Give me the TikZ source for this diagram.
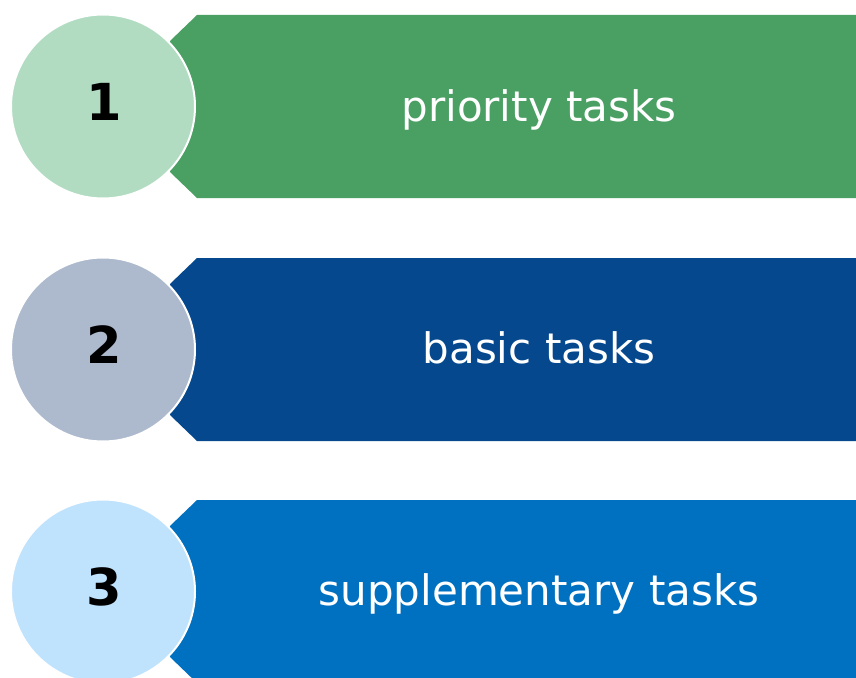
\documentclass[tikz,border=0pt]{standalone}
\usepackage{fontspec}
\setmainfont{DejaVu Sans}
\definecolor{bgA}{HTML}{4A9F63}
\definecolor{ciA}{HTML}{B1DCC1}
\definecolor{bgB}{HTML}{05488E}
\definecolor{ciB}{HTML}{ADB9CD}
\definecolor{bgC}{HTML}{0070C0}
\definecolor{ciC}{HTML}{C0E3FD}
\begin{document}
\begin{tikzpicture}[x=1pt,y=-1pt,
  numcircle/.style={circle,draw=white,line width=2pt,minimum size=184pt,inner sep=0pt,fill=#1},
  numtext/.style={font=\fontsize{51}{54}\selectfont\bfseries,text=black,inner sep=0pt,anchor=base},
  bannertext/.style={text=white,font=\fontsize{42}{45}\selectfont,inner sep=0pt,anchor=base}]
\useasboundingbox (0,0) rectangle (856,677);
% banners
\foreach \cy/\col in {106.5/bgA,349.5/bgB,591.5/bgC}{
  \fill[\col] (197,\cy-91.5) -- (870,\cy-91.5) -- (870,\cy+91.5) -- (197,\cy+91.5)
     -- (170,\cy+65.5) -- (170,\cy-65.5) -- cycle;
}
\node[numcircle=ciA] (c1) at (103,106.5) {};
\node[numcircle=ciB] (c2) at (103,349.5) {};
\node[numcircle=ciC] (c3) at (103,591.5) {};
\node[numtext] (n1) at (104,120.5) {1};
\node[numtext] (n2) at (104,363.5) {2};
\node[numtext] (n3) at (104,605.5) {3};
\node[bannertext] (t1) at (539,121) {priority tasks};
\node[bannertext] (t2) at (539,363.5) {basic tasks};
\node[bannertext] (t3) at (539,605.5) {supplementary tasks};
\end{tikzpicture}
\end{document}
